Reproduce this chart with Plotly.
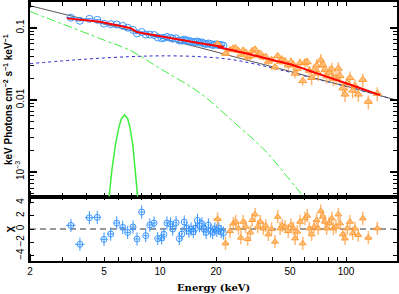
import numpy as np
import plotly.graph_objects as go

# ---------------- data ----------------
E_blue = [3.32, 3.71, 4.17, 4.60, 5.00, 5.43, 5.85, 6.30, 6.70, 7.16, 7.52, 7.97, 8.38, 8.81, 9.29,
          9.72, 10.2, 10.5, 10.9, 11.4, 11.7, 12.2, 12.7, 13.1, 13.5, 13.9, 14.3, 14.7, 15.1, 15.5,
          15.9, 16.3, 16.8, 17.2, 17.7, 18.2, 18.7, 19.2, 19.7, 20.2, 20.7, 21.3, 21.9]
F_blue = [0.139, 0.126, 0.134, 0.130, 0.115, 0.113, 0.112, 0.107, 0.101, 0.094, 0.084, 0.088, 0.081,
          0.081, 0.080, 0.074, 0.072, 0.073, 0.075, 0.073, 0.071, 0.072, 0.067, 0.067, 0.069, 0.067,
          0.066, 0.065, 0.064, 0.064, 0.065, 0.063, 0.063, 0.061, 0.060, 0.061, 0.060, 0.058, 0.059,
          0.059, 0.058, 0.058, 0.057]
R_blue = [0.55, -2.3, 1.7, 1.75, -1.55, -0.75, 0.9, 0.25, -0.5, 0.3, -1.5, 2.55, -1.0, 0.6, 0.9,
          -1.45, -1.35, -0.8, 0.9, 0.75, 0.0, 0.95, -1.45, -0.75, 1.05, 0.1, -0.3, 0.0, -0.4, 0.1,
          1.3, 0.5, 0.8, 0.0, -0.5, 0.6, -0.3, -0.5, 0.0, -0.2, 0.1, -0.4, -0.6]

E_orange = [20.4, 22.5, 23.8, 24.8, 25.5, 26.4, 27.2, 28.0, 28.9, 29.6, 30.6, 31.3, 32.4, 33.5, 34.6,
            35.9, 37.0, 38.2, 39.8, 41.5, 42.9, 44.2, 45.4, 47.0, 48.9, 50.6, 52.1, 53.2, 54.7, 56.6,
            58.5, 60.1, 61.9, 63.5, 65.3, 67.3, 69.5, 70.9, 73.1, 75.0, 77.1, 78.7, 81.3, 83.8, 85.5,
            88.3, 90.9, 92.9, 96.0, 98.8, 101.6, 105.0, 108.6, 111.7, 116.4, 123.0, 131.8, 147.3]
F_orange = [0.0602, 0.0442, 0.0495, 0.0524, 0.0526, 0.0483, 0.0429, 0.0490, 0.0457, 0.0393, 0.0409,
            0.0481, 0.0506, 0.0420, 0.0442, 0.0392, 0.0400, 0.0343, 0.0363, 0.0286, 0.0410, 0.0343,
            0.0360, 0.0343, 0.0304, 0.0338, 0.0307, 0.0234, 0.0272, 0.0327, 0.0185, 0.0330, 0.0337,
            0.0257, 0.0204, 0.0258, 0.0303, 0.0235, 0.0357, 0.0308, 0.0265, 0.0215, 0.0242, 0.0268,
            0.0199, 0.0205, 0.0275, 0.0216, 0.0146, 0.0120, 0.0173, 0.0204, 0.0136, 0.0158, 0.0120,
            0.0192, 0.0095, 0.0123]
R_orange = [1.5, -2.15, -0.3, 0.85, 1.1, 0.1, -1.3, 1.1, 0.35, -1.5, -0.5, 1.35, 2.2, 0.35, 1.1,
            0.1, 0.5, -0.8, 0.0, -1.9, 1.85, 0.1, 0.5, 0.35, -0.3, 0.6, 0.1, -1.4, -0.4, 1.1,
            -2.15, 1.6, 2.0, 0.1, -0.8, 0.35, 1.35, 0.1, 2.7, 1.85, 1.1, 0.1, 0.85, 1.6, 0.1,
            0.35, 2.2, 0.85, -0.8, -1.4, 0.1, 1.1, -0.65, 0.1, -0.9, 1.6, -1.3, 0.1]

# model curves
E_total = [2, 3.16, 5, 10, 16.4, 30, 50, 70, 100, 150, 190]
F_total = [0.204, 0.152, 0.1137, 0.073, 0.0532, 0.0352, 0.025, 0.0197, 0.0156, 0.0117, 0.0098]
E_soft = [2, 3, 5, 6.9, 10, 16.4, 25, 36.6, 50, 58.8, 70]
F_soft = [0.17, 0.113, 0.068, 0.049, 0.0274, 0.0125, 0.0049, 0.002, 7.7e-4, 4.6e-4, 2.5e-4]
E_hard = [2, 4, 6.9, 10, 16.4, 25, 37.5, 50, 70, 100, 150, 190]
F_hard = [0.032, 0.037, 0.040, 0.041, 0.040, 0.036, 0.029, 0.0243, 0.0195, 0.0154, 0.0116, 0.0098]
E_line = [5.0, 5.25, 5.5, 5.75, 6.0, 6.2, 6.45, 6.7, 6.9, 7.15, 7.4, 7.65, 7.9]
F_line = [9.2e-5, 3.5e-4, 1.02e-3, 2.33e-3, 4.1e-3, 5.5e-3, 6.2e-3, 5.5e-3, 4.1e-3, 2.33e-3, 1.02e-3, 3.5e-4, 9.2e-5]
E_red1 = [3.16, 4.0, 4.76, 5.5, 6.3, 6.9, 7.2, 7.5, 8.0, 10, 13, 16.4, 22]
F_red1 = [0.136, 0.128, 0.122, 0.113, 0.105, 0.100, 0.094, 0.088, 0.085, 0.0765, 0.068, 0.0612, 0.0545]
E_red2 = [20.4, 28.5, 36, 50, 70, 100, 125, 152]
F_red2 = [0.0545, 0.045, 0.0387, 0.0313, 0.0234, 0.0171, 0.0140, 0.0117]

x_ticks = [2, 5, 10, 20, 50, 100]
y_ticks = [0.001, 0.01, 0.1]
y_ticktext = ["10<sup>−3</sup>", "0.01", "0.1"]
r_ticks = [-4, -2, 0, 2, 4]
r_ticktext = ["−4", "−2", "0", "2", "4"]


def half_widths(E):
    E = np.asarray(E, dtype=float)
    hw = np.empty_like(E)
    hw[1:-1] = (E[2:] - E[:-2]) / 4
    hw[0] = (E[1] - E[0]) / 2
    hw[-1] = (E[-1] - E[-2]) / 2
    return hw


hw_blue = half_widths(E_blue)
hw_orange = half_widths(E_orange)
ferr_blue = np.asarray(F_blue) * 0.025
Eo = np.asarray(E_orange)
rel_o = np.where(Eo < 30, 0.07, np.where(Eo < 45, 0.10, np.where(Eo < 65, 0.15, 0.22)))
ferr_orange = np.asarray(F_orange) * rel_o

BLUE = "#3a96ff"
ORANGE = "#ff9a30"
ORANGE_ERR = "rgba(255,160,70,0.75)"
GREEN = "#3cee3c"

fig = go.Figure()

# main panel (x2, y2)
fig.add_trace(go.Scatter(x=E_soft, y=F_soft, mode="lines", xaxis="x2", yaxis="y2",
                         line=dict(color=GREEN, width=1, dash="dashdot", shape="spline")))
fig.add_trace(go.Scatter(x=E_hard, y=F_hard, mode="lines", xaxis="x2", yaxis="y2",
                         line=dict(color="#2a2ad0", width=1, dash="dot", shape="spline")))
fig.add_trace(go.Scatter(x=E_line, y=F_line, mode="lines", xaxis="x2", yaxis="y2",
                         line=dict(color=GREEN, width=1.5)))
fig.add_trace(go.Scatter(x=E_total, y=F_total, mode="lines", xaxis="x2", yaxis="y2",
                         line=dict(color="#555555", width=1, shape="spline")))
fig.add_trace(go.Scatter(x=E_blue, y=F_blue, mode="markers", xaxis="x2", yaxis="y2",
                         marker=dict(symbol="circle-open", size=7, color=BLUE, line=dict(width=1)),
                         error_x=dict(type="data", array=hw_blue, color=BLUE, thickness=1, width=0),
                         error_y=dict(type="data", array=ferr_blue, color=BLUE, thickness=1, width=0)))
fig.add_trace(go.Scatter(x=E_orange, y=F_orange, mode="markers", xaxis="x2", yaxis="y2",
                         marker=dict(symbol="triangle-up", size=7, color="rgba(255,190,120,0.8)",
                                     line=dict(width=1, color=ORANGE)),
                         error_x=dict(type="data", array=hw_orange, color=ORANGE_ERR, thickness=1.5, width=0),
                         error_y=dict(type="data", array=ferr_orange, color=ORANGE_ERR, thickness=1.5, width=0)))
fig.add_trace(go.Scatter(x=E_red1, y=F_red1, mode="lines", xaxis="x2", yaxis="y2",
                         line=dict(color="red", width=2)))
fig.add_trace(go.Scatter(x=E_red2, y=F_red2, mode="lines", xaxis="x2", yaxis="y2",
                         line=dict(color="red", width=2, shape="spline")))

# residual panel (x, y)
fig.add_trace(go.Scatter(x=E_blue, y=R_blue, mode="markers", xaxis="x", yaxis="y",
                         marker=dict(symbol="circle-open", size=6, color=BLUE, line=dict(width=1)),
                         error_x=dict(type="data", array=hw_blue, color=BLUE, thickness=1, width=0),
                         error_y=dict(type="constant", value=1, color=BLUE, thickness=1, width=0)))
fig.add_trace(go.Scatter(x=E_orange, y=R_orange, mode="markers", xaxis="x", yaxis="y",
                         marker=dict(symbol="triangle-up", size=6, color="rgba(255,190,120,0.8)",
                                     line=dict(width=1, color=ORANGE)),
                         error_x=dict(type="data", array=hw_orange, color=ORANGE_ERR, thickness=1.5, width=0),
                         error_y=dict(type="constant", value=1, color=ORANGE_ERR, thickness=1.5, width=0)))

fig.add_shape(type="line", xref="x domain", yref="y", x0=0, x1=1, y0=0, y1=0, layer="below",
              line=dict(color="#999999", width=2, dash="6px,4px"))

minor_x = [v * d for d in (1, 10, 100) for v in (2, 3, 4, 5, 6, 7, 8, 9) if v * d not in x_ticks]
minor_y = [v * d for d in (1e-4, 1e-3, 1e-2, 1e-1) for v in (2, 3, 4, 5, 6, 7, 8, 9)]

tickfont = dict(family="Liberation Sans", size=10, color="black")
axis_common = dict(showline=True, linecolor="black", linewidth=1.5, mirror="allticks", automargin=False,
                   ticks="inside", tickcolor="black", showgrid=False, zeroline=False, tickfont=tickfont)

xr = [np.log10(2), 2.274]
fig.update_layout(
    width=399, height=294, margin=dict(l=30, r=2, t=2, b=33, autoexpand=False),
    plot_bgcolor="white", paper_bgcolor="white", showlegend=False,
    xaxis=dict(type="log", range=xr, domain=[0, 1], anchor="y", tickvals=x_ticks,
               ticktext=[str(v) for v in x_ticks], ticklen=4, tickwidth=1,
               minor=dict(tickvals=minor_x, ticklen=4, ticks="inside", tickcolor="black", tickwidth=1),
               **axis_common),
    xaxis2=dict(type="log", range=xr, domain=[0, 1], anchor="y2", matches="x", tickvals=x_ticks,
                showticklabels=False, ticklen=4, tickwidth=1,
                minor=dict(tickvals=minor_x, ticklen=4, ticks="inside", tickcolor="black", tickwidth=1),
                **axis_common),
    yaxis=dict(range=[-4.81, 4.89], domain=[0, 0.249], anchor="x", tickvals=r_ticks,
               ticktext=r_ticktext, tickangle=-90, ticklen=4, **axis_common),
    yaxis2=dict(type="log", range=[-3.34, -0.639], domain=[0.249, 1], anchor="x2",
                tickvals=y_ticks, ticktext=y_ticktext, tickangle=-90, ticklen=7, tickwidth=1.5,
                minor=dict(tickvals=minor_y, ticklen=4, ticks="inside", tickcolor="black", tickwidth=1),
                **axis_common),
    annotations=[
        dict(text="keV Photons cm<sup>−2</sup> s<sup>−1</sup> keV<sup>−1</sup>", xref="paper", yref="paper",
             x=-0.06, y=0.625, textangle=-90, showarrow=False, xanchor="center", yanchor="middle",
             font=dict(family="Liberation Sans", size=10, color="black", weight="bold")),
        dict(text="χ", xref="paper", yref="paper", x=-0.058, y=0.125, textangle=-90, showarrow=False,
             xanchor="center", yanchor="middle", font=dict(family="Liberation Sans", size=11, color="black", weight="bold")),
        dict(text="Energy (keV)", xref="paper", yref="paper", x=0.5, y=-0.104, yanchor="middle", showarrow=False,
             font=dict(family="DejaVu Serif", size=10, color="black", weight="bold")),
    ],
)

# emphasised decade ticks on the energy axis
for dec in (1, 2):
    for yref, y0, y1 in (("y domain", 0, 0.11), ("y domain", 1, 0.89),
                         ("y2 domain", 0, 0.028), ("y2 domain", 1, 0.972)):
        fig.add_shape(type="line", xref="x", yref=yref, x0=dec, x1=dec, y0=y0, y1=y1,
                      line=dict(color="black", width=2))

fig.write_html("out.html", config={"displayModeBar": False},
               post_script="document.body.style.margin='0';document.body.style.padding='0';"
                           "document.documentElement.style.overflow='hidden';")
